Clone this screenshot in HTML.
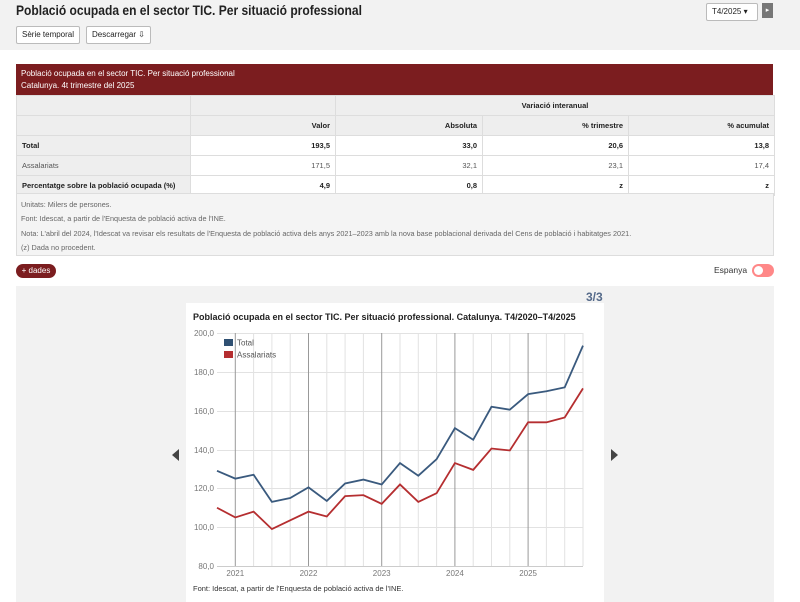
<!DOCTYPE html>
<html><head><meta charset="utf-8"><style>
*{margin:0;padding:0;box-sizing:border-box}
body{width:800px;height:602px;overflow:hidden;background:#fff;font-family:"Liberation Sans",sans-serif;color:#222;position:relative}
.a{position:absolute}
.hdr{left:0;top:0;width:800px;height:50px;background:#f2f2f2}
.btn{background:#fff;border:1px solid #bbb;font-size:8px;height:18px;line-height:16px;padding:0 5px;border-radius:2px}
table{border-collapse:collapse;font-size:7.5px;table-layout:fixed}
td{border:1px solid #ddd;height:20px;padding:0 5px;text-align:right;white-space:nowrap;overflow:hidden}
td.l{text-align:left}
.g{background:#eee}
b{font-weight:bold}
</style></head><body>
<div class="a hdr"></div>
<div class="a" style="left:16px;top:2px;font-size:14px;font-weight:bold;color:#222;transform:scaleX(0.86);transform-origin:0 0;white-space:nowrap">Població ocupada en el sector TIC. Per situació professional</div>
<div class="a btn" style="left:16px;top:26px">Sèrie temporal</div>
<div class="a btn" style="left:86px;top:26px">Descarregar ⇩</div>
<div class="a btn" style="left:706px;top:3px;width:52px;font-size:8px">T4/2025 ▾</div>
<div class="a" style="left:762px;top:3px;width:11px;height:15px;background:#777;color:#fff;font-size:7px;text-align:center;line-height:15px">▸</div>

<div class="a" style="left:16px;top:64px;width:757px;height:31px;background:#7b1d1f;color:#fff;font-size:8px;padding:4px 5px;line-height:12px">Població ocupada en el sector TIC. Per situació professional<br>Catalunya. 4t trimestre del 2025</div>
<table class="a" style="left:16px;top:95px;width:758px">
<colgroup><col style="width:174px"><col style="width:145px"><col style="width:147px"><col style="width:146px"><col style="width:146px"></colgroup>
<tr><td class="g"></td><td class="g"></td><td class="g" colspan="3" style="text-align:center"><b>Variació interanual</b></td></tr>
<tr><td class="g" style="height:19px"></td><td class="g"><b>Valor</b></td><td class="g"><b>Absoluta</b></td><td class="g"><b>% trimestre</b></td><td class="g"><b>% acumulat</b></td></tr>
<tr><td class="l g"><b>Total</b></td><td><b>193,5</b></td><td><b>33,0</b></td><td><b>20,6</b></td><td><b>13,8</b></td></tr>
<tr><td class="l g" style="color:#555">Assalariats</td><td style="color:#555">171,5</td><td style="color:#555">32,1</td><td style="color:#555">23,1</td><td style="color:#555">17,4</td></tr>
<tr><td class="l g" style="height:19px"><b>Percentatge sobre la població ocupada (%)</b></td><td><b>4,9</b></td><td><b>0,8</b></td><td><b>z</b></td><td><b>z</b></td></tr>
</table>
<div class="a" style="left:16px;top:193px;width:758px;height:63px;background:#f4f4f4;border:1px solid #ddd;font-size:7.3px;color:#666;padding:4px 4px;line-height:14.3px;white-space:nowrap">Unitats: Milers de persones.<br>Font: Idescat, a partir de l'Enquesta de població activa de l'INE.<br>Nota: L'abril del 2024, l'Idescat va revisar els resultats de l'Enquesta de població activa dels anys 2021–2023 amb la nova base poblacional derivada del Cens de població i habitatges 2021.<br>(z) Dada no procedent.</div>

<div class="a" style="left:16px;top:264px;width:40px;height:14px;background:#7b1d1f;color:#fff;border-radius:7px;font-size:8px;text-align:center;line-height:14px">+ dades</div>
<div class="a" style="left:714px;top:265px;font-size:8.5px;color:#333">Espanya</div>
<div class="a" style="left:752px;top:264px;width:22px;height:13px;background:#f88;border-radius:7px"><div class="a" style="left:2px;top:2px;width:9px;height:9px;background:#fff;border-radius:50%"></div></div>

<div class="a" style="left:16px;top:286px;width:758px;height:316px;background:#f2f2f2"></div>
<div class="a" style="left:586px;top:290px;font-size:12px;font-weight:bold;color:#556a8a">3/3</div>
<div class="a" style="left:172px;top:449px;width:0;height:0;border-top:6px solid transparent;border-bottom:6px solid transparent;border-right:7px solid #444"></div>
<div class="a" style="left:611px;top:449px;width:0;height:0;border-top:6px solid transparent;border-bottom:6px solid transparent;border-left:7px solid #444"></div>
<div class="a" style="left:186px;top:303px;width:418px;height:299px;background:#fff"></div>

<svg class="a" style="left:0;top:0" width="800" height="602" font-family="Liberation Sans,sans-serif">
<text x="193" y="320" font-size="9" font-weight="bold" fill="#222">Població ocupada en el sector TIC. Per situació professional. Catalunya. T4/2020–T4/2025</text>
<g stroke="#e2e2e2" stroke-width="1">
<line x1="217" x2="583" y1="333.5" y2="333.5"/><line x1="217" x2="583" y1="372.5" y2="372.5"/><line x1="217" x2="583" y1="411.5" y2="411.5"/><line x1="217" x2="583" y1="450.5" y2="450.5"/><line x1="217" x2="583" y1="488.5" y2="488.5"/><line x1="217" x2="583" y1="527.5" y2="527.5"/>
<line x1="253.6" x2="253.6" y1="333" y2="566"/><line x1="271.9" x2="271.9" y1="333" y2="566"/><line x1="290.2" x2="290.2" y1="333" y2="566"/>
<line x1="326.8" x2="326.8" y1="333" y2="566"/><line x1="345.1" x2="345.1" y1="333" y2="566"/><line x1="363.4" x2="363.4" y1="333" y2="566"/>
<line x1="400" x2="400" y1="333" y2="566"/><line x1="418.3" x2="418.3" y1="333" y2="566"/><line x1="436.6" x2="436.6" y1="333" y2="566"/>
<line x1="473.2" x2="473.2" y1="333" y2="566"/><line x1="491.5" x2="491.5" y1="333" y2="566"/><line x1="509.8" x2="509.8" y1="333" y2="566"/>
<line x1="546.4" x2="546.4" y1="333" y2="566"/><line x1="564.7" x2="564.7" y1="333" y2="566"/><line x1="583" x2="583" y1="333" y2="566"/>
</g>
<g stroke="#999" stroke-width="1">
<line x1="235.3" x2="235.3" y1="333" y2="566"/><line x1="308.5" x2="308.5" y1="333" y2="566"/><line x1="381.7" x2="381.7" y1="333" y2="566"/><line x1="454.9" x2="454.9" y1="333" y2="566"/><line x1="528.1" x2="528.1" y1="333" y2="566"/>
<line x1="217" x2="583" y1="566.5" y2="566.5" stroke="#ccc"/>
</g>
<g font-size="8" fill="#777" text-anchor="end">
<text x="214" y="336">200,0</text><text x="214" y="375">180,0</text><text x="214" y="414">160,0</text><text x="214" y="453">140,0</text><text x="214" y="491">120,0</text><text x="214" y="530">100,0</text><text x="214" y="569">80,0</text>
</g>
<g font-size="8" fill="#777" text-anchor="middle">
<text x="235.3" y="576">2021</text><text x="308.5" y="576">2022</text><text x="381.7" y="576">2023</text><text x="454.9" y="576">2024</text><text x="528.1" y="576">2025</text>
</g>
<g transform="translate(217,566) scale(18.3,-1.9417)" fill="none">
<polyline vector-effect="non-scaling-stroke" stroke="#3a5a7e" stroke-width="1.8" points="0,49 1,45 2,47 3,33 4,35 5,40.5 6,33.5 7,42.5 8,44.5 9,42 10,53 11,46.5 12,55 13,71 14,65 15,82 16,80.5 17,88.5 18,90 19,92 20,113.5"/>
<polyline vector-effect="non-scaling-stroke" stroke="#b52e30" stroke-width="1.8" points="0,30 1,25 2,28 3,19 4,23.5 5,28 6,25.5 7,36 8,36.5 9,32 10,42 11,33 12,37.5 13,53 14,49.5 15,60.5 16,59.5 17,74 18,74 19,76.5 20,91.5"/>
</g>
<rect x="224" y="339" width="9" height="7" fill="#2f5072"/>
<text x="237" y="345.5" font-size="8" fill="#555">Total</text>
<rect x="224" y="351" width="9" height="7" fill="#b52e30"/>
<text x="237" y="357.5" font-size="8" fill="#555">Assalariats</text>
<text x="193" y="591" font-size="7.5" fill="#333">Font: Idescat, a partir de l'Enquesta de població activa de l'INE.</text>
</svg>
</body></html>
